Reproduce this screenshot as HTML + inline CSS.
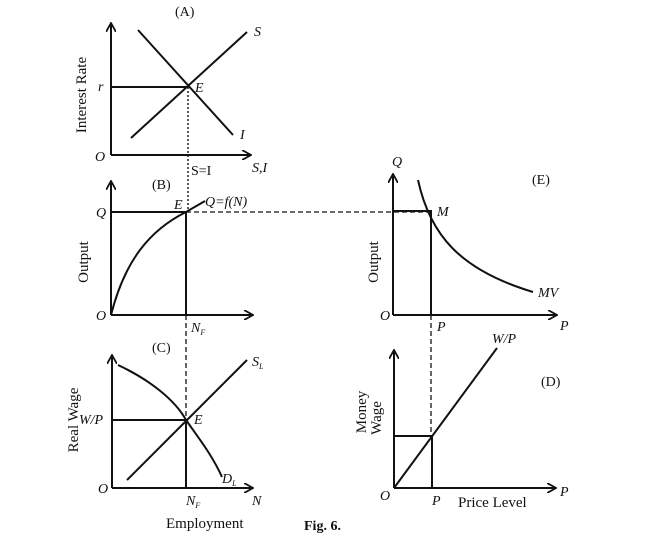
<!DOCTYPE html>
<html><head><meta charset="utf-8"><style>
html,body{margin:0;padding:0;background:#fff}
svg{display:block}
text{font-family:"Liberation Serif",serif;fill:#111}
.i{font-style:italic}
</style></head><body>
<svg width="649" height="539" viewBox="0 0 649 539" xmlns="http://www.w3.org/2000/svg">
<defs><marker id="a" markerWidth="10" markerHeight="10" refX="8" refY="5" orient="auto" markerUnits="userSpaceOnUse"><path d="M0,0 L9,5 L0,10" fill="none" stroke="#111" stroke-width="1.8"/></marker></defs>
<g stroke="#111" stroke-width="2" fill="none">
<path d="M111,155 V24" marker-end="url(#a)"/>
<path d="M111,155 H250" marker-end="url(#a)"/>
<path d="M131,138 L247,32"/>
<path d="M138,30 L233,135"/>
<path d="M111,87 H188"/>
<path d="M188,87 V212" stroke-dasharray="2,2" stroke-width="1.4"/>
<path d="M111,315 V182" marker-end="url(#a)"/>
<path d="M111,315 H252" marker-end="url(#a)"/>
<path d="M111,212 H186"/>
<path d="M111,315 C125,260 150,230 186,212 L205,201"/>
<path d="M186,212 V315"/>
<path d="M186,212 H430" stroke-dasharray="5,3" stroke-width="1.3"/>
<path d="M186,315 V420" stroke-dasharray="5,3" stroke-width="1.3"/>
<path d="M393,315 V175" marker-end="url(#a)"/>
<path d="M393,315 H556" marker-end="url(#a)"/>
<path d="M393,211 H431 V315"/>
<path d="M418,180 C430,235 460,270 533,292"/>
<path d="M431,315 V436" stroke-dasharray="5,3" stroke-width="1.3"/>
<path d="M112,488 V356" marker-end="url(#a)"/>
<path d="M112,488 H252" marker-end="url(#a)"/>
<path d="M112,420 H186"/>
<path d="M127,480 L247,360"/>
<path d="M118,365 C150,380 175,400 186,420 C200,440 212,455 222,477"/>
<path d="M186,420 V488"/>
<path d="M394,488 V351" marker-end="url(#a)"/>
<path d="M394,488 H555" marker-end="url(#a)"/>
<path d="M394,488 L497,348"/>
<path d="M394,436 H432 V488"/>
</g>
<g font-size="14">
<text x="175" y="16">(A)</text>
<text class="i" x="254" y="36">S</text>
<text class="i" x="195" y="92">E</text>
<text class="i" x="240" y="139">I</text>
<text class="i" x="98" y="91">r</text>
<text class="i" x="95" y="161">O</text>
<text class="i" x="252" y="172">S,I</text>
<text x="191" y="175">S=I</text>
<text transform="translate(86,95) rotate(-90)" text-anchor="middle" font-size="15">Interest Rate</text>
<text x="152" y="189">(B)</text>
<text class="i" x="174" y="209">E</text>
<text class="i" x="205" y="206">Q=f(N)</text>
<text class="i" x="96" y="217">Q</text>
<text transform="translate(88,262) rotate(-90)" text-anchor="middle" font-size="15">Output</text>
<text class="i" x="96" y="320">O</text>
<text class="i" x="191" y="332">N<tspan font-size="8" dy="3">F</tspan></text>
<text class="i" x="392" y="166">Q</text>
<text x="532" y="184">(E)</text>
<text class="i" x="437" y="216">M</text>
<text class="i" x="538" y="297">MV</text>
<text transform="translate(378,262) rotate(-90)" text-anchor="middle" font-size="15">Output</text>
<text class="i" x="380" y="320">O</text>
<text class="i" x="437" y="331">P</text>
<text class="i" x="560" y="330">P</text>
<text x="152" y="352">(C)</text>
<text class="i" x="252" y="366">S<tspan font-size="8" dy="3">L</tspan></text>
<text class="i" x="79" y="424">W/P</text>
<text class="i" x="194" y="424">E</text>
<text class="i" x="222" y="483">D<tspan font-size="8" dy="3">L</tspan></text>
<text class="i" x="98" y="493">O</text>
<text class="i" x="186" y="505">N<tspan font-size="8" dy="3">F</tspan></text>
<text class="i" x="252" y="505">N</text>
<text x="166" y="528" font-size="15">Employment</text>
<text transform="translate(78,420) rotate(-90)" text-anchor="middle" font-size="15">Real Wage</text>
<text x="304" y="530" font-size="14" font-weight="bold">Fig. 6.</text>
<text class="i" x="492" y="343">W/P</text>
<text x="541" y="386">(D)</text>
<text transform="translate(366,412) rotate(-90)" text-anchor="middle" font-size="15">Money</text>
<text transform="translate(381,418) rotate(-90)" text-anchor="middle" font-size="15">Wage</text>
<text class="i" x="380" y="500">O</text>
<text class="i" x="432" y="505">P</text>
<text x="458" y="507" font-size="15">Price Level</text>
<text class="i" x="560" y="496">P</text>
</g>
</svg>
</body></html>
